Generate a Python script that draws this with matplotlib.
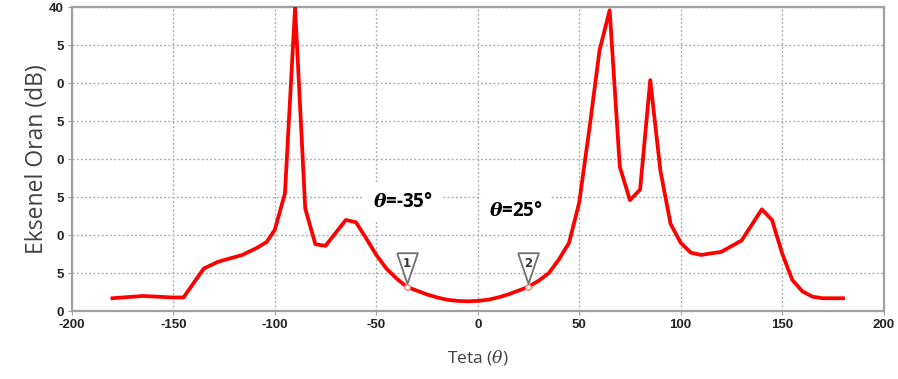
import matplotlib
matplotlib.use("Agg")
import matplotlib.pyplot as plt
from matplotlib.transforms import offset_copy

# Axial ratio vs. theta
theta = [-180, -165, -150, -145, -135, -128, -116, -109, -104, -100, -95, -90,
         -85, -80, -75, -70, -65, -60, -55, -50, -45, -40, -35, -30, -25, -20,
         -15, -10, -5, 0, 5, 10, 15, 20, 25, 30, 35, 40, 45, 50, 55, 60, 65,
         70, 75, 80, 85, 90, 95, 100, 105, 110, 120, 130, 140, 145, 150, 155,
         160, 165, 170, 180]
axial_ratio = [1.7, 2.0, 1.8, 1.8, 5.6, 6.5, 7.4, 8.3, 9.1, 10.7, 15.5, 40.0,
               13.5, 8.8, 8.6, 10.3, 12.0, 11.7, 9.6, 7.4, 5.6, 4.3, 3.2, 2.7,
               2.2, 1.8, 1.5, 1.35, 1.3, 1.35, 1.5, 1.8, 2.2, 2.7, 3.2, 4.0,
               5.0, 6.8, 9.0, 14.3, 24.0, 34.3, 39.6, 19.0, 14.6, 16.0, 30.4,
               18.5, 11.5, 9.0, 7.7, 7.4, 7.8, 9.3, 13.4, 12.0, 7.6, 4.1, 2.6,
               1.9, 1.7, 1.7]

marker_ids = ["1", "2"]
marker_theta = [-35, 25]

x_ticks = [-200, -150, -100, -50, 0, 50, 100, 150, 200]
y_ticks = [0, 5, 10, 15, 20, 25, 30, 35, 40]
y_ticklabels = ["0", "5", "0", "5", "0", "5", "0", "5", "40"]

plt.rcParams["axes.unicode_minus"] = False
plt.rcParams["mathtext.fontset"] = "custom"
plt.rcParams["mathtext.it"] = "DejaVu Serif:italic"
plt.rcParams["mathtext.bf"] = "DejaVu Serif:italic:bold"
plt.rcParams["mathtext.rm"] = "DejaVu Sans"

fig = plt.figure(figsize=(8.98, 3.79), dpi=100)
ax = fig.add_axes([0.080, 0.179, 0.904, 0.802])

ax.plot(theta, axial_ratio, color="#ff0000", lw=2.7, solid_joinstyle="round",
        zorder=3)

ax.set_xlim(-200, 200)
ax.set_ylim(0, 40)
ax.set_xticks(x_ticks)
ax.set_yticks(y_ticks)
ax.set_yticklabels(y_ticklabels)
ax.grid(True, color="#b0b0b0", ls=(0, (1.5, 1.5)), lw=1.0, zorder=0)

for side in ["left", "right", "top", "bottom"]:
    ax.spines[side].set_color("#a0a0a0")
    ax.spines[side].set_linewidth(1.6)
ax.tick_params(axis="both", length=3, color="#a0a0a0", pad=3,
               labelsize=9.5, labelcolor="#222222")
for lab in ax.get_xticklabels() + ax.get_yticklabels():
    lab.set_fontweight("bold")
    lab.set_family("Liberation Sans")

ax.set_ylabel("Eksenel Oran (dB)", fontsize=16.5, color="#404040",
              family="Open Sans", labelpad=0)
ax.set_xlabel(r"Teta ($\mathit{\theta}$)", fontsize=12.5, color="#404040",
              family="Open Sans", labelpad=12)

# Point markers with numbered flags
tri = [(-0.68, 1.0), (0.68, 1.0), (0.0, -1.0), (-0.68, 1.0)]
flag_tr = offset_copy(ax.transData, fig=fig, x=0, y=13.5, units="points")
num_tr = offset_copy(ax.transData, fig=fig, x=0, y=17, units="points")
for mid, mt in zip(marker_ids, marker_theta):
    mv = axial_ratio[theta.index(mt)]
    ax.plot(mt, mv, marker="o", ms=4, mfc="white", mec="#ff8080", mew=1,
            zorder=4)
    ax.plot(mt, mv, marker=tri, ms=22, mfc="white", mec="#707070", mew=1.3,
            transform=flag_tr, zorder=5)
    ax.text(mt, mv, mid, transform=num_tr, ha="center", va="center",
            fontsize=8.5, fontweight="bold", color="#333333", zorder=6)

# Angle annotations
ax.text(-37, 14.4, r"$\mathbf{\theta}$=-35°", ha="center", va="center",
        fontsize=13.5, fontweight="bold", color="black", family="Open Sans",
        zorder=6, bbox=dict(fc="white", ec="none", pad=6))
ax.text(19, 13.2, r"$\mathbf{\theta}$=25°", ha="center", va="center",
        fontsize=13.5, fontweight="bold", color="black", family="Open Sans",
        zorder=6, bbox=dict(fc="white", ec="none", pad=6))

fig.savefig("out.png", dpi=100)
